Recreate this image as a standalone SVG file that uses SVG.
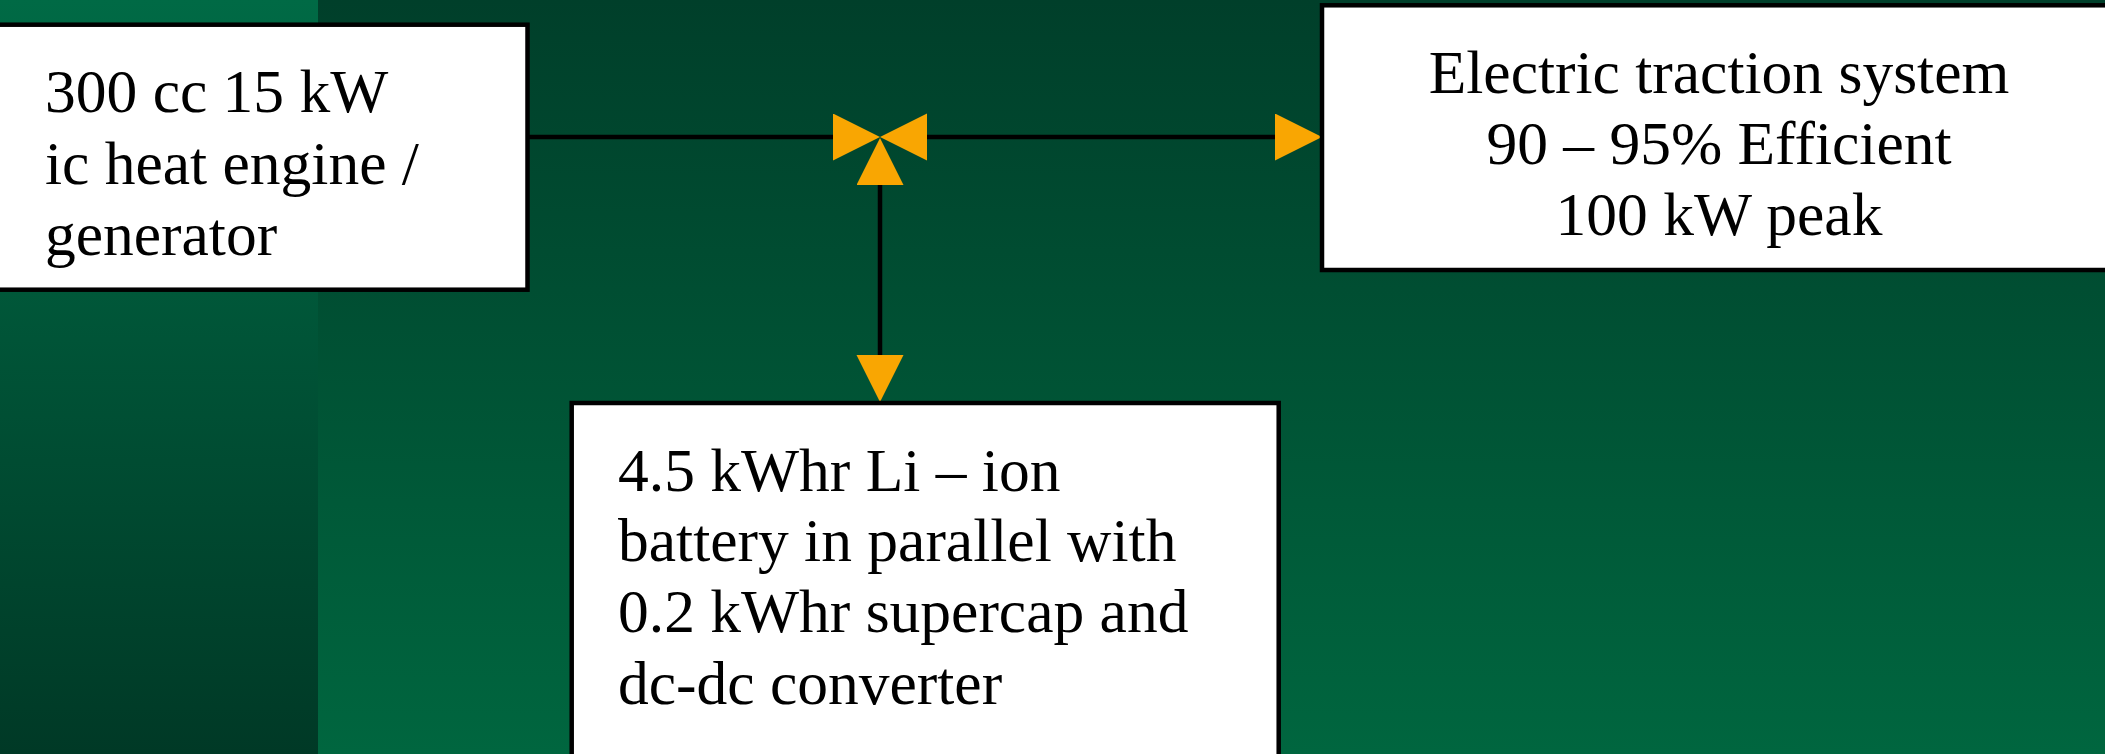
<svg xmlns="http://www.w3.org/2000/svg" width="2105" height="754" viewBox="0 0 2105 754">
<defs>
<linearGradient id="bgMain" x1="0" y1="0" x2="0" y2="1">
<stop offset="0" stop-color="#003f2a"/>
<stop offset="1" stop-color="#00663f"/>
</linearGradient>
<linearGradient id="bgStrip" x1="0" y1="0" x2="0" y2="1">
<stop offset="0" stop-color="#006a45"/>
<stop offset="1" stop-color="#003926"/>
</linearGradient>
<marker id="head" markerUnits="userSpaceOnUse" markerWidth="48" markerHeight="48" refX="0" refY="23.5" orient="auto-start-reverse" viewBox="0 0 48 48">
<path d="M0,0 L47,23.5 L0,47 z" fill="#f9a602"/>
</marker>
</defs>
<style>
.box{fill:#ffffff;stroke:#000000;stroke-width:4.5}
.lbl{font-family:"Liberation Serif","Times New Roman",serif;font-size:61.5px;fill:#000000}
.conn{stroke:#000000;stroke-width:4.5;fill:none}
</style>
<rect x="0" y="0" width="2105" height="754" fill="url(#bgMain)"/>
<rect x="0" y="0" width="318" height="754" fill="url(#bgStrip)"/>
<g id="connectors">
<line class="conn" x1="527" y1="137" x2="833" y2="137" marker-end="url(#head)"/>
<line class="conn" x1="927" y1="137" x2="1275" y2="137" marker-start="url(#head)" marker-end="url(#head)"/>
<line class="conn" x1="880" y1="185" x2="880" y2="355" marker-start="url(#head)" marker-end="url(#head)"/>
</g>
<g id="engine">
<rect class="box" x="-3" y="24.7" width="530.5" height="265"/>
<text class="lbl" x="45" y="112">300 cc 15 kW</text>
<text class="lbl" x="45" y="183.5">ic heat engine /</text>
<text class="lbl" x="45" y="255">generator</text>
</g>
<g id="traction">
<rect class="box" x="1322" y="5.3" width="792" height="264.7"/>
<text class="lbl" x="1719" y="93" text-anchor="middle">Electric traction system</text>
<text class="lbl" x="1719" y="163.5" text-anchor="middle">90 – 95% Efficient</text>
<text class="lbl" x="1719" y="235" text-anchor="middle">100 kW peak</text>
</g>
<g id="battery">
<rect class="box" x="571.7" y="403" width="707" height="380"/>
<text class="lbl" x="618" y="490.5">4.5 kWhr Li – ion</text>
<text class="lbl" x="618" y="561">battery in parallel with</text>
<text class="lbl" x="618" y="632">0.2 kWhr supercap and</text>
<text class="lbl" x="618" y="704">dc-dc converter</text>
</g>
</svg>
